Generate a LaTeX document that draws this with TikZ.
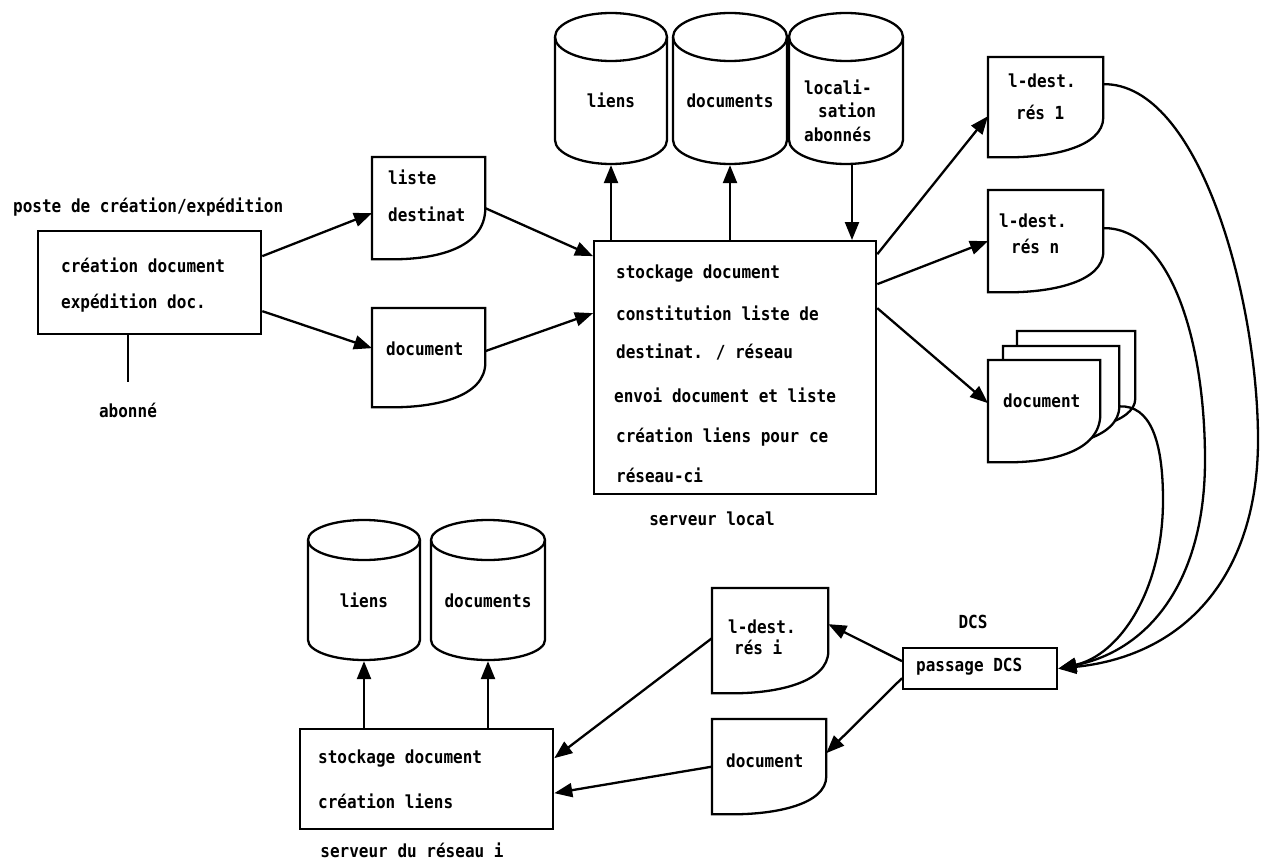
\documentclass[tikz,border=0pt]{standalone}
\usepackage{fontspec}
\newfontfamily\monofnt{DejaVu Sans Mono}[FakeStretch=0.89]
\usetikzlibrary{arrows.meta,calc}
\newcommand{\docshape}[2]{%
  \draw[fill=white] (#1.north west) -- (#1.north east) -- ($(#1.north east)!#2!(#1.south east)$)
    .. controls ($(#1.north east)!0.9!(#1.south east)$) and ($(#1.south west)!0.55!(#1.south east)$)
    .. ($(#1.south west)!0.18!(#1.south east)$) -- (#1.south west) -- cycle;}
\newcommand{\dbcyl}[6]{%
  \node[inner sep=0pt,minimum width={2*#5},minimum height={#4-#3+2*#6}] (#1) at (#2,{(#3+#4)/2}) {};
  \draw[fill=white] ({#2-#5},#3) -- ({#2-#5},#4) arc[start angle=180,end angle=360,x radius=#5pt,y radius=#6pt]
    -- ({#2+#5},#3) arc[start angle=0,end angle=180,x radius=#5pt,y radius=#6pt] -- cycle;
  \draw ({#2-#5},#3) arc[start angle=180,end angle=360,x radius=#5pt,y radius=#6pt];}
\begin{document}
\begin{tikzpicture}[x=1pt,y=-1pt,line width=2.3pt,
  arr/.style={-{Triangle[length=18pt,width=14pt]}},
  txt/.style={inner sep=0pt,font=\monofnt\bfseries\fontsize{18}{21}\selectfont,text height=10pt,text depth=0pt},
  box/.style={draw,inner sep=0pt,anchor=north west},
  ghost/.style={inner sep=0pt,anchor=north west}]
\fill[white] (0,0) rectangle (1264,864);
\useasboundingbox (0,0) rectangle (1264,864);

% ---------- left: poste de creation ----------
\node[txt,anchor=west] (poste) at (12,207) {poste de création/expédition};
\node[box,minimum width=223pt,minimum height=103pt] (creat) at (37,230) {};
\node[txt,anchor=west] (creatA) at (60,267) {création document};
\node[txt,anchor=west] (creatB) at (60,303) {expédition doc.};
\node[txt] (abonne) at (128,412) {abonné};
\draw (abonne.north |- creat.south) -- ([yshift=24pt]abonne.north);

% ---------- liste destinat / document ----------
\node[ghost,minimum width=111pt,minimum height=100pt] (liste) at (372,157) {};
\docshape{liste}{0.5}
\node[txt,anchor=west] (listeA) at (387,180) {liste};
\node[txt,anchor=west] (listeB) at (387,217) {destinat};

\node[ghost,minimum width=111pt,minimum height=97pt] (docA) at (372,308) {};
\docshape{docA}{0.55}
\node[txt,anchor=west] (docAt) at (385,350) {document};

\draw[arr] ([yshift=26.5pt]creat.east) -- ([yshift=-5pt]liste.west);
\draw[arr] ([yshift=-28.5pt]creat.east) -- ([yshift=9.5pt]docA.west);

% ---------- serveur local ----------
\node[box,minimum width=282pt,minimum height=253pt] (main) at (593,240) {};
\node[txt,anchor=west] (m1) at (615,273) {stockage document};
\node[txt,anchor=west] (m2) at (615,315) {constitution liste de};
\node[txt,anchor=west] (m3) at (615,353) {destinat. / réseau};
\node[txt,anchor=west] (m4) at (613,397) {envoi document et liste};
\node[txt,anchor=west] (m5) at (615,437) {création liens pour ce};
\node[txt,anchor=west] (m6) at (615,477) {réseau-ci};
\node[txt] (servloc) at (712,520) {serveur local};

\draw[arr] (liste.east) -- ([yshift=111.5pt]main.west);
\draw[arr] ([yshift=6.5pt]docA.east) -- ([yshift=54.5pt]main.west);

% ---------- top cylinders ----------
\dbcyl{cylL}{611}{37}{140}{56}{24}
\dbcyl{cylD}{730}{37}{140}{57}{24}
\dbcyl{cylLoc}{846}{37}{140}{57}{24}
\node[txt] (tL) at (611,103) {liens};
\node[txt] (tD) at (730,103) {documents};
\node[txt,anchor=west] (tLoc1) at (803,90) {locali-};
\node[txt,anchor=west] (tLoc2) at (817,113) {sation};
\node[txt,anchor=west] (tLoc3) at (803,137) {abonnés};

\draw[arr] (cylL.south |- main.north) -- (cylL.south);
\draw[arr] (cylD.south |- main.north) -- (cylD.south);
\draw[arr] ([xshift=6pt]cylLoc.south) -- ([xshift=6pt]cylLoc.south |- main.north);

% ---------- right documents ----------
\node[ghost,minimum width=113pt,minimum height=98pt] (res1) at (988,57) {};
\docshape{res1}{0.6}
\node[txt,anchor=west] (res1a) at (1007,83) {l-dest.};
\node[txt,anchor=west] (res1b) at (1015,115) {rés 1};

\node[ghost,minimum width=113pt,minimum height=100pt] (resn) at (988,190) {};
\docshape{resn}{0.6}
\node[txt,anchor=west] (resna) at (998,222) {l-dest.};
\node[txt,anchor=west] (resnb) at (1010,248) {rés n};

\node[ghost,minimum width=116pt,minimum height=100pt] (stC) at (1017,331) {};
\docshape{stC}{0.66}
\node[ghost,minimum width=114pt,minimum height=100pt] (stB) at (1003,346) {};
\docshape{stB}{0.59}
\node[ghost,minimum width=110pt,minimum height=100pt] (stA) at (988,360) {};
\docshape{stA}{0.53}
\node[txt,anchor=west] (stAt) at (1002,402) {document};

\draw[arr] ([yshift=113.5pt]main.east) -- ([yshift=-9pt]res1.west);
\draw[arr] ([yshift=83.5pt]main.east) -- (resn.west);
\draw[arr] ([yshift=59.5pt]main.east) -- ([yshift=8pt]stA.west);

% ---------- DCS ----------
\node[box,minimum width=154pt,minimum height=41pt] (dcs) at (902,647) {};
\node[txt,anchor=west] (dcst) at (915,666) {passage DCS};
\node[txt] (dcsl) at (973,623) {DCS};

\draw[arr] ([yshift=23pt]res1.east) .. controls (1200,83) and (1258,300) .. (1258,440)
  .. controls (1258,570) and (1190,655) .. (dcs.east);
\draw[arr] ([yshift=13pt]resn.east) .. controls (1170,227) and (1205,340) .. (1205,460)
  .. controls (1205,580) and (1150,650) .. (dcs.east);
\draw[arr] ($(stB.north east)!0.59!(stB.south east)$) .. controls (1150,405) and (1163,440) .. (1163,500)
  .. controls (1163,590) and (1120,655) .. (dcs.east);

% ---------- bottom documents ----------
\node[ghost,minimum width=114pt,minimum height=103pt] (resi) at (712,588) {};
\docshape{resi}{0.6}
\node[txt,anchor=west] (resia) at (727,628) {l-dest.};
\node[txt,anchor=west] (resib) at (733,649) {rés i};

\node[ghost,minimum width=112pt,minimum height=93pt] (docB) at (712,719) {};
\docshape{docB}{0.6}
\node[txt,anchor=west] (docBt) at (725,762) {document};

\draw[arr] ([yshift=7.5pt]dcs.west) -- ([yshift=16.5pt]resi.east);
\draw[arr] ([yshift=-9.5pt]dcs.west) -- ([yshift=13.5pt]docB.east);

% ---------- serveur du reseau i ----------
\node[box,minimum width=253pt,minimum height=100pt] (box2) at (299,728) {};
\node[txt,anchor=west] (b2a) at (317,758) {stockage document};
\node[txt,anchor=west] (b2b) at (317,803) {création liens};
\node[txt] (servi) at (412,852) {serveur du réseau i};

\dbcyl{cylL2}{364}{540}{640}{56}{20}
\dbcyl{cylD2}{488}{540}{640}{57}{20}
\node[txt] (tL2) at (364,602) {liens};
\node[txt] (tD2) at (488,602) {documents};

\draw[arr] (cylL2.south |- box2.north) -- (cylL2.south);
\draw[arr] (cylD2.south |- box2.north) -- (cylD2.south);
\draw[arr] ([yshift=2.5pt]resi.west) -- ([yshift=21pt]box2.east);
\draw[arr] (docB.west) -- ([yshift=-14pt]box2.east);
\end{tikzpicture}
\end{document}
